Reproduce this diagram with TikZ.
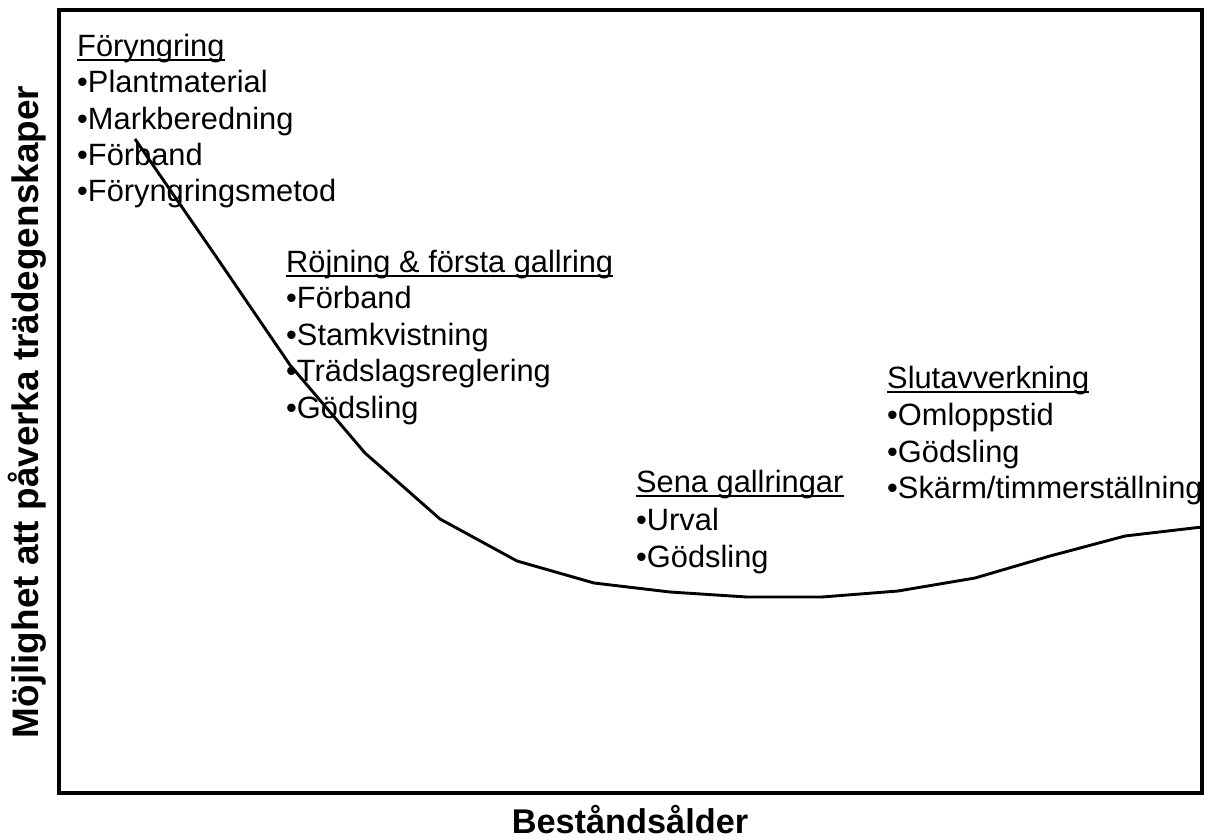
\documentclass[tikz,border=0pt]{standalone}
\usepackage{fontspec}
\setmainfont{Liberation Sans}
\begin{document}
\begin{tikzpicture}[x=1pt,y=-1pt,
  lbl/.style={anchor=base west, inner sep=0pt, font=\fontsize{30.8}{36}\selectfont},
  axlbl/.style={inner sep=0pt, font=\bfseries\fontsize{34.3}{40}\selectfont},
  ylbl/.style={inner sep=0pt, rotate=90, font=\bfseries\fontsize{36.9}{40}\selectfont},
  frame/.style={line width=3.2pt},
  curve/.style={line width=2.9pt, line join=round},
  uline/.style={line width=2pt}]
\useasboundingbox (0,0) rectangle (1211,839);
\draw[frame] (59,10) rectangle (1202,793);
% curve
\draw[curve] (135,139) -- (215,255) -- (290,365) -- (365,453) -- (440,519) -- (517,561)
  -- (594,583) -- (670,592) -- (747,597) -- (822,597) -- (898,591) -- (975,578)
  -- (1050,556) -- (1125,536) -- (1202,527);
% Foryngring
\node[lbl] (h1) at (77,56) {Föryngring};
\node[lbl] (a1) at (77,92.5) {•Plantmaterial};
\node[lbl] (a2) at (77,129) {•Markberedning};
\node[lbl] (a3) at (77,165) {•Förband};
\node[lbl] (a4) at (77,201.5) {•Föryngringsmetod};
% Rojning
\node[lbl] (h2) at (286,272) {Röjning \& första gallring};
\node[lbl] (b1) at (286,308.5) {•Förband};
\node[lbl] (b2) at (286,345) {•Stamkvistning};
\node[lbl] (b3) at (286,381.5) {•Trädslagsreglering};
\node[lbl] (b4) at (286,418) {•Gödsling};
% Sena
\node[lbl] (h3) at (636,492) {Sena gallringar};
\node[lbl] (c1) at (636,530) {•Urval};
\node[lbl] (c2) at (636,567) {•Gödsling};
% Slut
\node[lbl] (h4) at (887,388) {Slutavverkning};
\node[lbl] (d1) at (887,425) {•Omloppstid};
\node[lbl] (d2) at (887,462) {•Gödsling};
\node[lbl] (d3) at (887,498) {•Skärm/timmerställning};
% underlines
\foreach \h in {h1,h2,h3,h4}
  \draw[uline] ([yshift=-4pt]\h.base west) -- ([yshift=-4pt]\h.base east);
% axis labels
\node[ylbl] (ylab) at (27,412) {Möjlighet att påverka trädegenskaper};
\node[axlbl, anchor=base] (xlab) at (630,833) {Beståndsålder};
\end{tikzpicture}
\end{document}
